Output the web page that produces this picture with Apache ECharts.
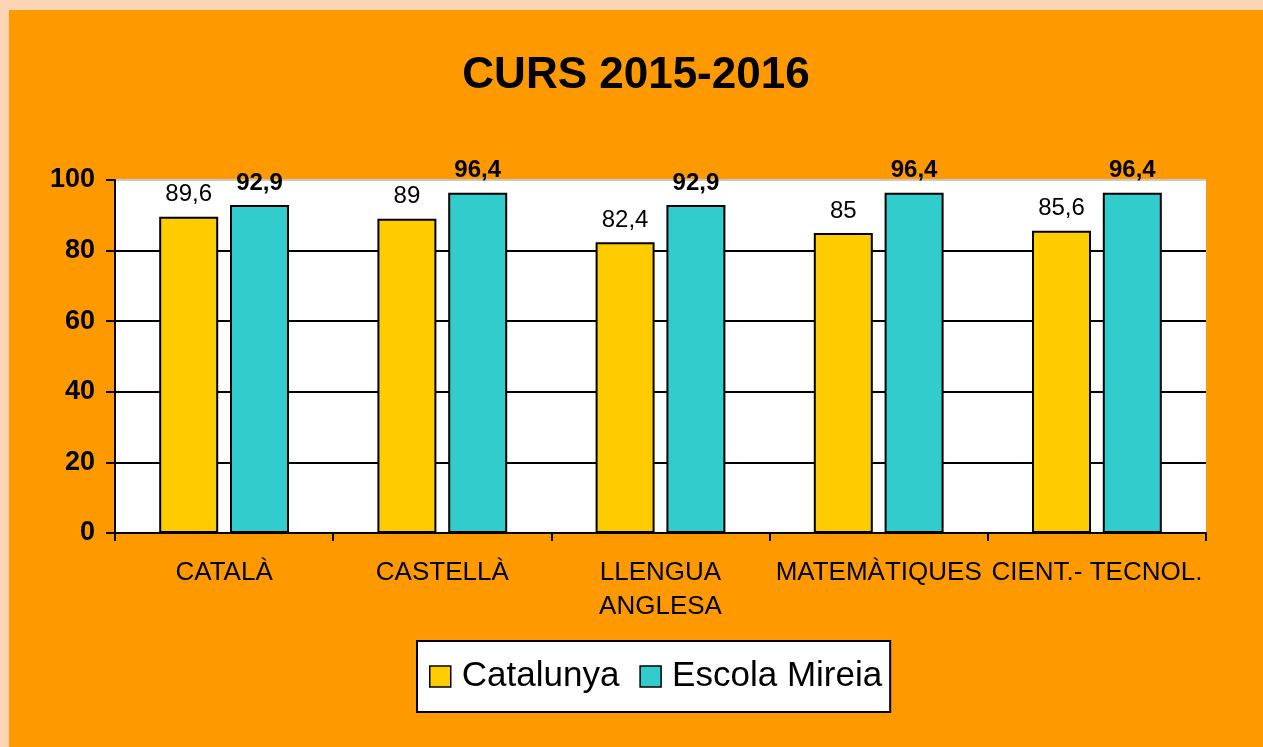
<!DOCTYPE html>
<html>
<head>
<meta charset="utf-8">
<script src="https://cdn.jsdelivr.net/npm/echarts@6/dist/echarts.min.js"></script>
<style>
  html, body { margin: 0; padding: 0; background: #fcd5b5; }
  #chart { position: absolute; left: 9px; top: 10px; width: 1254px; height: 737px; }
</style>
</head>
<body>
<div id="chart"></div>
<script>
// dades del gràfic
var categories = ['CATALÀ', 'CASTELLÀ', 'LLENGUA\nANGLESA', 'MATEMÀTIQUES', 'CIENT.- TECNOL.'];
var catalunya = [89.6, 89, 82.4, 85, 85.6];
var escola = [92.9, 96.4, 92.9, 96.4, 96.4];
var yTicks = [0, 20, 40, 60, 80, 100];

var FONT = '"Liberation Sans", Arial, sans-serif';

function comma(p) {
  return String(p.value).replace('.', ',');
}

var chart = echarts.init(document.getElementById('chart'));

var option = {
  backgroundColor: '#ff9900',
  animation: false,
  title: {
    text: 'CURS 2015-2016',
    left: 'center',
    top: 39,
    textStyle: { fontFamily: FONT, fontSize: 44, fontWeight: 'bold', color: '#000' }
  },
  legend: {
    left: 408,
    top: 631,
    padding: [18, 8, 18, 12],
    itemWidth: 21,
    itemHeight: 21,
    itemGap: 20,
    icon: 'rect',
    backgroundColor: '#fff',
    borderColor: '#000',
    borderWidth: 2,
    itemStyle: { borderColor: '#000', borderWidth: 1.5 },
    textStyle: { fontFamily: FONT, fontSize: 35, color: '#000', lineHeight: 34, padding: [0, 0, 0, 6] },
    data: ['Catalunya', 'Escola Mireia']
  },
  grid: {
    left: 106,
    top: 170,
    right: 57,
    bottom: 214,
    show: true,
    backgroundColor: '#fff',
    borderWidth: 0
  },
  xAxis: {
    type: 'category',
    data: categories,
    axisLine: { lineStyle: { color: '#000', width: 2 } },
    axisTick: { show: true, inside: false, length: 8, interval: 0, lineStyle: { color: '#000', width: 2 } },
    axisLabel: { interval: 0, margin: 23, fontFamily: FONT, fontSize: 26, color: '#000', lineHeight: 34 },
    splitLine: { show: false }
  },
  yAxis: {
    type: 'value',
    min: yTicks[0],
    max: yTicks[yTicks.length - 1],
    interval: 20,
    axisLine: { show: true, lineStyle: { color: '#000', width: 2 } },
    axisTick: { show: true, length: 9, lineStyle: { color: '#000', width: 2 } },
    axisLabel: { margin: 20, fontFamily: FONT, fontSize: 27, fontWeight: 'bold', color: '#000' },
    splitLine: {
      show: true,
      lineStyle: { color: ['#000', '#000', '#000', '#000', '#000', '#c8c8c8'], width: 2 }
    }
  },
  series: [
    {
      name: 'Catalunya',
      type: 'bar',
      data: catalunya,
      barWidth: 59,
      barGap: '20%',
      itemStyle: { color: '#ffcc00', borderColor: '#000', borderWidth: 2 },
      label: {
        show: true, position: 'top', distance: 10, formatter: comma,
        fontFamily: FONT, fontSize: 24, color: '#000'
      }
    },
    {
      name: 'Escola Mireia',
      type: 'bar',
      data: escola,
      barWidth: 59,
      barGap: '20%',
      itemStyle: { color: '#33cccc', borderColor: '#000', borderWidth: 2 },
      label: {
        show: true, position: 'top', distance: 10, formatter: comma,
        fontFamily: FONT, fontSize: 24, fontWeight: 'bold', color: '#000'
      }
    }
  ]
};

chart.setOption(option);
window.addEventListener('resize', chart.resize);
</script>
</body>
</html>
